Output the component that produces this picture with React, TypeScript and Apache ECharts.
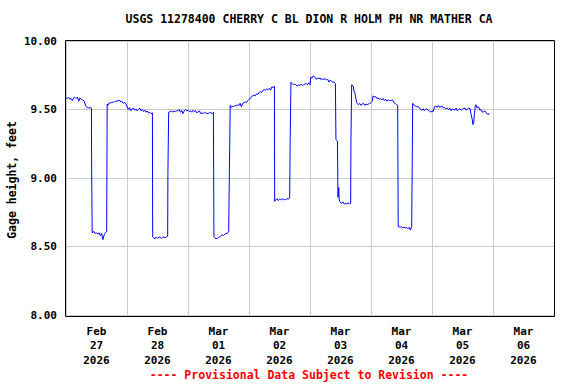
import React, { useEffect, useRef } from "react";
import * as echarts from "echarts";

// Hours since 2026-02-27 00:00 (local)
const hours: number[] = [
  0, 0.5, 1, 1.5, 2, 2.5, 3, 3.5, 4, 4.5, 5, 5.5, 6, 6.5, 7, 7.5, 8, 8.5, 9, 9.5, 10,
  10.1, 10.3, 10.5, 11, 11.5, 12, 12.5, 13, 13.5, 14, 14.5, 15, 15.5, 16,
  16.1, 16.2, 16.5, 17, 17.5, 18, 18.5, 19, 19.5, 20, 20.5, 21, 21.5, 22, 22.5, 23, 23.5, 24,
  24.5, 25, 25.5, 26, 26.5, 27, 27.5, 28, 28.5, 29, 29.5, 30, 30.5, 31, 31.5, 32, 32.5, 33, 33.5, 34,
  34.1, 34.3, 35, 35.5, 36, 36.5, 37, 37.5, 38, 38.5, 39, 39.5, 40,
  40.1, 40.4, 41, 41.5, 42, 42.5, 43, 43.5, 44, 44.5, 45, 45.5, 46, 46.5, 47, 47.5, 48, 48.5, 49, 49.5,
  50, 50.5, 51, 51.5, 52, 52.5, 53, 53.5, 54, 54.5, 55, 55.5, 56, 56.5, 57, 57.5, 58,
  58.2, 58.5, 59, 59.5, 60, 60.5, 61, 61.5, 62, 62.5, 63, 63.5, 64,
  64.3, 64.6, 65, 65.5, 66, 66.5, 67, 67.5, 68, 68.5, 69, 69.5, 70, 70.5, 71, 71.5, 72, 72.5, 73, 73.5,
  74, 74.5, 75, 75.5, 76, 76.5, 77, 77.5, 78, 78.5, 79, 79.5, 80, 80.5, 81, 81.5, 82,
  82.1, 82.5, 83, 83.5, 84, 84.5, 85, 85.5, 86, 86.5, 87, 87.5, 88,
  88.2, 88.5, 89, 89.5, 90, 90.5, 91, 91.5, 92, 92.5, 93, 93.5, 94, 94.5, 95, 95.5, 96,
  96.3, 96.8, 97.3, 98, 98.5, 99, 99.5, 100, 100.5, 101, 101.5, 102, 102.5, 103, 103.5, 104, 104.5, 105, 105.5, 106,
  106.2, 106.8, 107.0, 107.3, 107.5, 108, 108.5, 109, 109.5, 110, 110.5, 111, 111.5, 112,
  112.1, 112.4, 113, 113.3, 113.7, 114, 114.5, 115, 115.5, 116, 116.5, 117, 117.5, 118, 118.5, 119, 119.5, 120, 120.5,
  120.8, 121.3, 121.8, 122.3, 122.8, 123.3, 123.8, 124.3, 124.8, 125.3, 125.8, 126.3, 126.8, 127.3, 127.9,
  128.5, 129, 129.5, 130, 130.5,
  130.6, 130.7, 131, 131.5, 132, 132.5, 133, 133.5, 134, 134.5, 135, 135.5, 136,
  136.2, 136.4, 137, 137.5, 138, 138.5, 139, 139.5, 140, 140.5, 141, 141.5, 142, 142.5, 143, 143.5, 144, 144.5,
  145, 145.5, 146, 146.5, 147, 147.5, 148, 148.5, 149, 149.5, 150, 150.5, 151, 151.5, 152, 152.5, 153, 153.5,
  154, 154.5, 155, 155.5, 156, 156.5, 157, 157.5, 158, 158.5, 159,
  159.3, 159.8, 160.1, 160.4, 160.7, 161, 161.3, 161.8, 162.3, 162.8, 163.3, 163.8, 164.3, 164.8, 165.3, 165.8, 166.2, 166.5,
];

const gageHeight: number[] = [
  9.585, 9.58, 9.59, 9.575, 9.58, 9.565, 9.585, 9.59, 9.58, 9.59, 9.56, 9.585, 9.575, 9.57, 9.565, 9.54, 9.52, 9.515, 9.51, 9.515, 9.51,
  9.06, 8.6, 8.6, 8.61, 8.595, 8.6, 8.59, 8.6, 8.58, 8.595, 8.55, 8.585, 8.6, 8.61,
  9.06, 9.54, 9.53, 9.55, 9.545, 9.555, 9.55, 9.56, 9.555, 9.565, 9.56, 9.57, 9.555, 9.56, 9.545, 9.55, 9.545, 9.52,
  9.5, 9.515, 9.49, 9.505, 9.51, 9.495, 9.505, 9.49, 9.5, 9.51, 9.49, 9.5, 9.485, 9.495, 9.48, 9.49, 9.475, 9.48, 9.47, 9.475,
  8.57, 8.565, 8.555, 8.57, 8.56, 8.565, 8.57, 8.56, 8.565, 8.57, 8.565, 8.57, 8.575,
  9.04, 9.48, 9.485, 9.49, 9.48, 9.49, 9.485, 9.49, 9.49, 9.5, 9.48, 9.495, 9.47, 9.49, 9.5, 9.49, 9.495, 9.485, 9.49, 9.48,
  9.495, 9.485, 9.49, 9.475, 9.485, 9.49, 9.47, 9.475, 9.47, 9.48, 9.475, 9.47, 9.47, 9.48, 9.475, 9.47, 9.48,
  8.57, 8.565, 8.555, 8.56, 8.565, 8.57, 8.58, 8.585, 8.58, 8.59, 8.595, 8.595, 8.61,
  9.06, 9.53, 9.515, 9.525, 9.52, 9.53, 9.525, 9.535, 9.53, 9.545, 9.52, 9.545, 9.55, 9.555, 9.55, 9.565, 9.575, 9.58, 9.595, 9.6,
  9.605, 9.6, 9.615, 9.61, 9.625, 9.63, 9.625, 9.64, 9.645, 9.64, 9.65, 9.645, 9.655, 9.64, 9.665, 9.66, 9.67,
  8.83, 8.84, 8.85, 8.835, 8.845, 8.84, 8.85, 8.84, 8.845, 8.84, 8.85, 8.845, 8.855,
  9.28, 9.7, 9.69, 9.68, 9.685, 9.68, 9.67, 9.68, 9.675, 9.685, 9.675, 9.68, 9.685, 9.69, 9.68, 9.695, 9.68,
  9.735, 9.73, 9.745, 9.735, 9.72, 9.73, 9.725, 9.73, 9.715, 9.725, 9.72, 9.725, 9.715, 9.72, 9.7, 9.715, 9.705, 9.7, 9.7, 9.69,
  9.28, 9.27, 8.86, 8.93, 8.84, 8.82, 8.815, 8.825, 8.81, 8.815, 8.81, 8.82, 8.81, 8.815,
  9.26, 9.68, 9.67, 9.635, 9.62, 9.58, 9.545, 9.535, 9.545, 9.53, 9.54, 9.545, 9.53, 9.54, 9.535, 9.54, 9.545, 9.55, 9.56,
  9.6, 9.59, 9.595, 9.58, 9.585, 9.575, 9.58, 9.57, 9.58, 9.565, 9.575, 9.56, 9.57, 9.565, 9.565,
  9.57, 9.55, 9.545, 9.535, 9.53,
  9.09, 8.645, 8.645, 8.64, 8.645, 8.635, 8.64, 8.635, 8.64, 8.63, 8.64, 8.62, 8.645,
  9.05, 9.545, 9.53, 9.525, 9.52, 9.52, 9.515, 9.5, 9.495, 9.505, 9.49, 9.5, 9.505, 9.495, 9.49, 9.48, 9.49, 9.485,
  9.52, 9.525, 9.515, 9.53, 9.515, 9.52, 9.525, 9.51, 9.515, 9.505, 9.51, 9.5, 9.51, 9.49, 9.505, 9.5, 9.495, 9.51,
  9.49, 9.5, 9.505, 9.495, 9.5, 9.51, 9.51, 9.495, 9.505, 9.51, 9.505,
  9.47, 9.43, 9.39, 9.4, 9.47, 9.52, 9.535, 9.51, 9.52, 9.495, 9.5, 9.48, 9.485, 9.49, 9.475, 9.465, 9.47, 9.46,
];

const dayLabels: string[] = [
  "Feb\n27\n2026", "Feb\n28\n2026", "Mar\n01\n2026", "Mar\n02\n2026",
  "Mar\n03\n2026", "Mar\n04\n2026", "Mar\n05\n2026", "Mar\n06\n2026",
];

const titleText = "USGS 11278400 CHERRY C BL DION R HOLM PH NR MATHER CA";
const yAxisName = "Gage height, feet";
const footerText = "---- Provisional Data Subject to Revision ----";

const FONT = "'DejaVu Sans Mono', 'Liberation Mono', monospace";

export default function App() {
  const ref = useRef<HTMLDivElement>(null);
  useEffect(() => {
    if (!ref.current) return;
    const chart = echarts.init(ref.current, null, { renderer: "svg" });
    const data = hours.map((h, i) => [h, gageHeight[i]]);
    chart.setOption({
      animation: false,
      backgroundColor: "#ffffff",
      grid: {
        left: 66,
        top: 41,
        width: 488,
        height: 274,
        show: false,
      },
      xAxis: [
        {
          type: "value",
          min: 0,
          max: 192,
          interval: 24,
          axisLine: { show: false },
          axisTick: { show: false },
          axisLabel: { show: false },
          splitLine: { show: true, lineStyle: { color: "#cccccc", width: 1 } },
        },
        {
          type: "category",
          data: dayLabels,
          position: "bottom",
          boundaryGap: true,
          axisLine: { show: false },
          axisTick: { show: false },
          splitLine: { show: false },
          axisLabel: {
            interval: 0,
            color: "#000",
            fontFamily: FONT,
            fontWeight: "bold",
            fontSize: 11,
            lineHeight: 14.5,
            margin: 9,
          },
        },
      ],
      yAxis: {
        type: "value",
        min: 8,
        max: 10,
        interval: 0.5,
        axisLine: { show: false },
        axisTick: { show: false },
        axisLabel: {
          color: "#000",
          fontFamily: FONT,
          fontWeight: "bold",
          fontSize: 11,
          margin: 9,
          formatter: (v: number) => v.toFixed(2),
        },
        splitLine: { show: true, lineStyle: { color: "#cccccc", width: 1 } },
      },
      graphic: [
        {
          type: "rect",
          shape: { x: 65.5, y: 40.5, width: 489, height: 276 },
          style: { fill: "none", stroke: "#000", lineWidth: 1 },
          z: 10,
        },
        {
          type: "text",
          x: 309,
          y: 19,
          style: {
            text: titleText,
            fill: "#000",
            font: `bold 11.5px ${FONT}`,
            textAlign: "center",
            textVerticalAlign: "middle",
          },
        },
        {
          type: "text",
          x: 12,
          y: 180,
          rotation: Math.PI / 2,
          style: {
            text: yAxisName,
            fill: "#000",
            font: `bold 11.5px ${FONT}`,
            textAlign: "center",
            textVerticalAlign: "middle",
          },
        },
        {
          type: "text",
          x: 309,
          y: 375,
          style: {
            text: footerText,
            fill: "#ff0000",
            font: `bold 11.5px ${FONT}`,
            textAlign: "center",
            textVerticalAlign: "middle",
          },
        },
      ],
      series: [
        {
          type: "line",
          xAxisIndex: 0,
          data,
          showSymbol: false,
          symbol: "none",
          lineStyle: { color: "#0000ff", width: 1 },
          z: 5,
        },
      ],
    });
    return () => chart.dispose();
  }, []);
  return (
    <div
      ref={ref}
      style={{ position: "fixed", left: 0, top: 0, width: 576, height: 384 }}
    />
  );
}
